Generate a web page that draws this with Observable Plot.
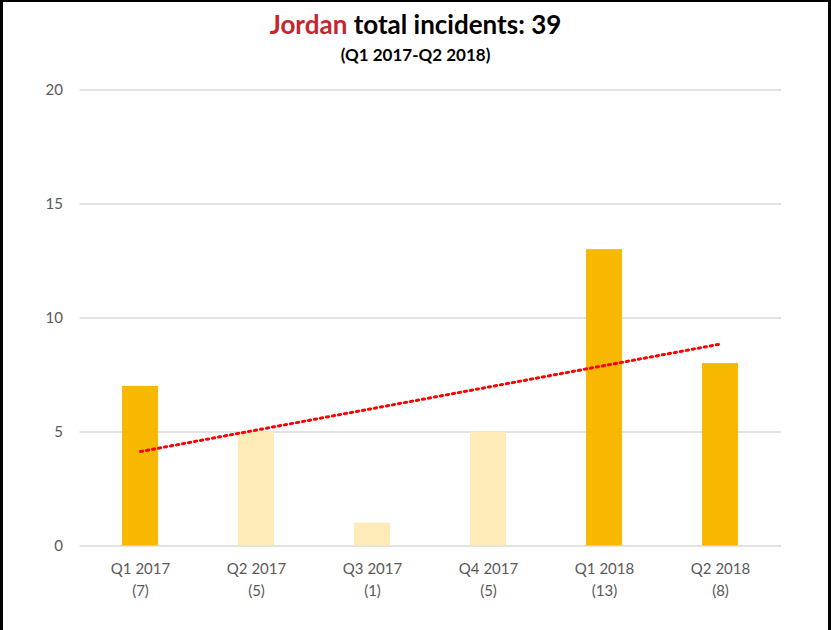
<!DOCTYPE html>
<html>
<head>
<meta charset="utf-8">
<script src="https://cdn.jsdelivr.net/npm/d3@7"></script>
<script src="https://cdn.jsdelivr.net/npm/@observablehq/plot@0.6"></script>
<style>
  html, body { margin: 0; padding: 0; background: #fff; }
  #frame { position: relative; width: 831px; height: 630px; overflow: hidden; background: #fff; font-family: Lato, "Open Sans", sans-serif; }
  #border { position: absolute; left: 0; top: 0; width: 831px; height: 640px; box-sizing: border-box; border-left: 3px solid #000; border-right: 3px solid #000; border-top: 2px solid #000; pointer-events: none; z-index: 5; }
  #title { position: absolute; left: 0; width: 831px; top: 7px; line-height: 34px; text-align: center; font-weight: bold; font-size: 26px; color: #000; z-index: 2; }
  #title .c { color: #C4262E; }
  #subtitle { position: absolute; left: 0; width: 831px; top: 44px; line-height: 22px; text-align: center; font-weight: bold; font-size: 17px; color: #000; z-index: 2; }
  #chart { position: absolute; left: 0; top: 0; }
</style>
</head>
<body>
<div id="frame">
  <div id="title"><span class="c">Jordan</span> total incidents: 39</div>
  <div id="subtitle">(Q1 2017-Q2 2018)</div>
  <div id="chart"></div>
  <div id="border"></div>
</div>
<script>
const quarters = ["Q1 2017", "Q2 2017", "Q3 2017", "Q4 2017", "Q1 2018", "Q2 2018"];
const incidents = [7, 5, 1, 5, 13, 8];
const shade = ["full", "light", "light", "light", "full", "full"];
const yTicks = [0, 5, 10, 15, 20];

const data = quarters.map((q, i) => ({quarter: q, value: incidents[i], shade: shade[i]}));

// least-squares linear trend from the data
const xs = incidents.map((_, i) => i + 1);
const mx = d3.mean(xs), my = d3.mean(incidents);
const slope = d3.sum(xs, (x, i) => (x - mx) * (incidents[i] - my)) / d3.sum(xs, x => (x - mx) ** 2);
const trend = quarters.map((q, i) => ({quarter: q, value: my + slope * (xs[i] - mx)}));

const labelOf = Object.fromEntries(quarters.map((q, i) => [q, `${q}\n(${incidents[i]})`]));

const chart = Plot.plot({
  width: 831,
  height: 630,
  marginLeft: 79.5,
  marginRight: 50,
  marginTop: 89.5,
  marginBottom: 84.5,
  style: {fontFamily: "Lato, 'Open Sans', sans-serif", color: "#595959", background: "transparent"},
  x: {domain: quarters, paddingInner: 0.69, paddingOuter: 0.345, align: 0.5},
  y: {domain: [0, 20]},
  color: {domain: ["full", "light"], range: ["#F9B800", "#FFEBB8"]},
  marks: [
    Plot.gridY(yTicks, {stroke: "#D9D9D9", strokeOpacity: 1, strokeWidth: 1.5}),
    Plot.barY(data, {x: "quarter", y: "value", fill: "shade"}),
    Plot.line(trend, {x: "quarter", y: "value", stroke: "#FF0000", strokeWidth: 3, strokeDasharray: "2.2,3.9"}),
    Plot.axisY(yTicks, {tickSize: 0, tickPadding: 17, fontSize: 15, label: null}),
    Plot.axisX({tickSize: 0, tickPadding: 13, fontSize: 15, lineHeight: 1.45, label: null, tickFormat: d => labelOf[d]})
  ]
});
document.getElementById("chart").appendChild(chart);
</script>
</body>
</html>
